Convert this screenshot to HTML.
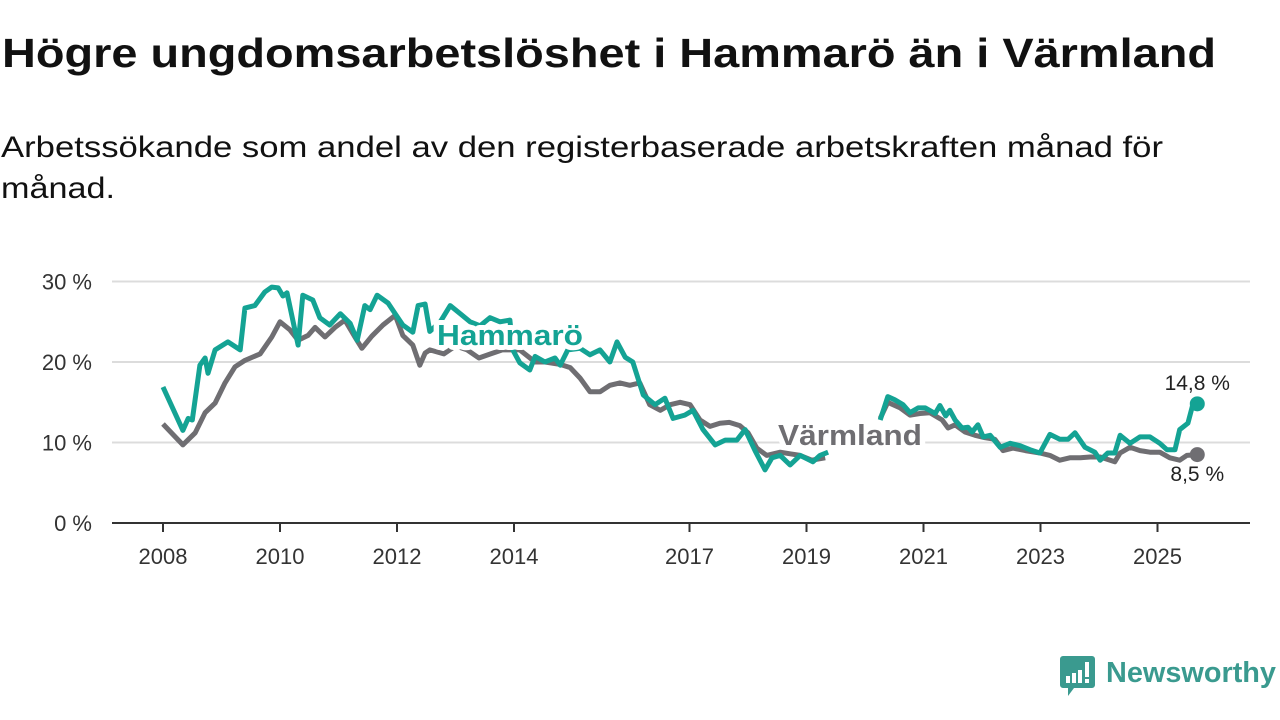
<!DOCTYPE html>
<html><head><meta charset="utf-8"><style>
html,body{margin:0;padding:0;background:#fff;width:1280px;height:720px;overflow:hidden}
svg text{font-family:"Liberation Sans",sans-serif}
</style></head><body>
<svg id="chart" width="1280" height="720" viewBox="0 0 1280 720">
<text x="2" y="67" font-size="41" font-weight="bold" fill="#111" textLength="1214" lengthAdjust="spacingAndGlyphs">Högre ungdomsarbetslöshet i Hammarö än i Värmland</text>
<text x="1" y="157" font-size="30" fill="#111" textLength="1162" lengthAdjust="spacingAndGlyphs">Arbetssökande som andel av den registerbaserade arbetskraften månad för</text>
<text x="1" y="198" font-size="30" fill="#111" textLength="114" lengthAdjust="spacingAndGlyphs">månad.</text>
<g id="grid"></g><g id="series"></g><g id="labels"></g>
<g transform="translate(1060,656)">
<path d="M0,0 h32 a3,3 0 0 1 3,3 v26 a3,3 0 0 1 -3,3 h-18 l-6,8 v-8 h-5 a3,3 0 0 1 -3,-3 v-26 a3,3 0 0 1 3,-3z" fill="#3a9a8f"/>
<rect x="6" y="20" width="4" height="7" fill="#fff"/><rect x="12" y="17" width="4" height="10" fill="#fff"/><rect x="18" y="14" width="4" height="13" fill="#fff"/><rect x="25" y="6" width="4" height="15" fill="#fff"/><rect x="25" y="23" width="4" height="4" fill="#fff"/>
<text x="46" y="26" font-size="29" font-weight="bold" fill="#3a9a8f" textLength="170" lengthAdjust="spacingAndGlyphs">Newsworthy</text>
</g>
</svg>
<script>
const yTicks=[0,10,20,30];
const yTickLabels=["0 %","10 %","20 %","30 %"];
const xTicks=[2008,2010,2012,2014,2017,2019,2021,2023,2025];
const xTickLabels=["2008","2010","2012","2014","2017","2019","2021","2023","2025"];
const hamDates=[2008.00,2008.34,2008.43,2008.50,2008.63,2008.72,2008.77,2008.89,2009.11,2009.32,2009.40,2009.57,2009.74,2009.86,2009.97,2010.05,2010.12,2010.31,2010.39,2010.56,2010.68,2010.85,2011.03,2011.20,2011.32,2011.45,2011.54,2011.66,2011.85,2011.97,2012.10,2012.27,2012.36,2012.48,2012.56,2012.74,2012.91,2013.08,2013.25,2013.42,2013.59,2013.76,2013.93,2013.98,2014.10,2014.27,2014.36,2014.53,2014.70,2014.79,2014.92,2015.13,2015.30,2015.47,2015.64,2015.76,2015.90,2016.03,2016.21,2016.41,2016.58,2016.72,2016.92,2017.06,2017.23,2017.44,2017.61,2017.81,2017.95,2018.12,2018.29,2018.41,2018.55,2018.72,2018.89,2019.11,2019.23,2019.37,2019.8,2020.26,2020.39,2020.51,2020.65,2020.77,2020.91,2021.03,2021.20,2021.28,2021.38,2021.45,2021.54,2021.66,2021.76,2021.83,2021.93,2022.02,2022.14,2022.31,2022.48,2022.65,2022.82,2022.99,2023.16,2023.33,2023.47,2023.59,2023.76,2023.93,2024.02,2024.15,2024.27,2024.36,2024.53,2024.70,2024.87,2025.04,2025.16,2025.30,2025.38,2025.52,2025.61,2025.68];
const hamValues=[16.9,11.5,13,12.8,19.6,20.5,18.6,21.5,22.5,21.5,26.7,27,28.7,29.3,29.2,28.2,28.6,22.1,28.3,27.7,25.5,24.6,26,24.8,22.7,27,26.5,28.3,27.3,26,24.6,23.7,27,27.2,23.8,25,27,26,25,24.5,25.5,25,25.2,21.5,19.9,19,20.7,20,20.5,19.6,21.5,21.7,20.9,21.5,20,22.5,20.6,20,15.9,14.7,15.5,13,13.4,14,11.6,9.7,10.3,10.3,11.6,9,6.6,8.1,8.4,7.2,8.4,7.6,8.4,8.8,null,12.8,15.7,15.3,14.7,13.7,14.3,14.3,13.6,14.6,13.3,14,12.8,11.8,11.9,11.3,12.2,10.7,10.9,9.4,9.9,9.6,9.1,8.7,11,10.4,10.4,11.2,9.4,8.8,7.8,8.7,8.7,10.9,9.9,10.7,10.7,9.9,9.1,9.1,11.6,12.4,14.9,14.8];
const varDates=[2008.00,2008.34,2008.55,2008.72,2008.89,2009.06,2009.23,2009.40,2009.66,2009.86,2010.00,2010.17,2010.31,2010.48,2010.60,2010.77,2010.94,2011.11,2011.28,2011.40,2011.57,2011.76,2011.97,2012.10,2012.27,2012.39,2012.48,2012.56,2012.8,2013.0,2013.2,2013.4,2013.6,2013.8,2014.10,2014.36,2014.53,2014.79,2014.96,2015.13,2015.30,2015.47,2015.64,2015.81,2015.98,2016.15,2016.32,2016.50,2016.67,2016.84,2017.01,2017.18,2017.35,2017.52,2017.68,2017.86,2018.00,2018.15,2018.32,2018.55,2018.72,2018.89,2019.09,2019.32,2019.8,2020.26,2020.39,2020.60,2020.77,2020.94,2021.11,2021.32,2021.42,2021.54,2021.71,2021.88,2022.05,2022.22,2022.36,2022.53,2022.74,2022.99,2023.16,2023.33,2023.50,2023.68,2023.85,2024.02,2024.27,2024.36,2024.53,2024.70,2024.87,2025.04,2025.21,2025.38,2025.50,2025.68];
const varValues=[12.3,9.7,11.2,13.7,14.9,17.4,19.4,20.2,21,23.1,25,24,22.7,23.3,24.3,23.1,24.3,25.2,23.1,21.7,23.2,24.6,25.8,23.3,22.1,19.6,21.1,21.5,21,22,21.5,20.5,21,21.5,21.5,20,20,19.7,19.3,18,16.3,16.3,17.1,17.4,17.1,17.4,14.7,14,14.7,15,14.7,12.8,12,12.4,12.5,12.1,11.2,9.3,8.4,8.8,8.6,8.4,7.8,8.1,null,13,15,14.3,13.4,13.6,13.7,12.8,11.8,12.2,11.3,10.9,10.6,10.4,9,9.3,9,8.7,8.4,7.8,8.1,8.1,8.2,8.2,7.6,8.7,9.4,9,8.8,8.8,8.1,7.8,8.4,8.5];

const NS="http://www.w3.org/2000/svg";
const X0=163,PXY=58.5,Y0=523,PXV=8.05;
function xs(d){return X0+(d-2008)*PXY;}
function ys(v){return Y0-v*PXV;}
function mk(tag,attrs,parent){const e=document.createElementNS(NS,tag);for(const k in attrs)e.setAttribute(k,attrs[k]);parent.appendChild(e);return e;}
const grid=document.getElementById('grid');
yTicks.forEach((t,i)=>{
  if(t>0){const l=mk('line',{x1:112,x2:1250,y1:ys(t),y2:ys(t),stroke:'#dcdcdc','stroke-width':2},grid);
  
  }
  const tx=mk('text',{x:92,y:ys(t)+8,'font-size':22,fill:'#333','text-anchor':'end'},grid);
  tx.textContent=yTickLabels[i];
  
  
});
const ax=mk('line',{x1:112,x2:1250,y1:Y0,y2:Y0,stroke:'#333','stroke-width':2},grid);


xTicks.forEach((t,i)=>{
  const tk=mk('line',{x1:xs(t),x2:xs(t),y1:Y0,y2:Y0+9,stroke:'#333','stroke-width':2},grid);
  
  
  const tx=mk('text',{x:xs(t),y:564,'font-size':22,fill:'#333','text-anchor':'middle'},grid);
  tx.textContent=xTickLabels[i];
  
  
});
const ser=document.getElementById('series');
function pathFor(dates,vals){let d='',pen=false;dates.forEach((t,i)=>{const v=vals[i];if(v===null){pen=false;return;}d+=(pen?'L':'M')+xs(t).toFixed(1)+','+ys(v).toFixed(1);pen=true;});return d;}
const pv=mk('path',{d:pathFor(varDates,varValues),fill:'none',stroke:'#6f6e72','stroke-width':5,'stroke-linejoin':'round'},ser);


const ph=mk('path',{d:pathFor(hamDates,hamValues),fill:'none',stroke:'#14a394','stroke-width':5,'stroke-linejoin':'round'},ser);


const lv=varValues.length-1,lh=hamValues.length-1;
const dv=mk('circle',{cx:xs(varDates[lv]),cy:ys(varValues[lv]),r:7.5,fill:'#6f6e72'},ser);


const dh=mk('circle',{cx:xs(hamDates[lh]),cy:ys(hamValues[lh]),r:7.5,fill:'#14a394'},ser);


const lab=document.getElementById('labels');
function label(txt,x,y,size,color,weight,name,halo,len){
  const a={x:x,y:y,'font-size':size,fill:color,'font-weight':weight,'text-anchor':'middle',stroke:'#fff','stroke-width':halo,'paint-order':'stroke','stroke-linejoin':'round'};
  if(len){a.textLength=len;a.lengthAdjust='spacingAndGlyphs';}
  const t=mk('text',a,lab);
  t.textContent=txt;
  
  
}
label('Hammarö',510,345,29,'#14a394','bold','hammaro-series-label',10,146);
label('Värmland',850,445,29,'#6f6e72','bold','varmland-series-label',10,144);
label(String(hamValues[lh]).replace('.',',')+' %',xs(hamDates[lh]),390,21,'#222','normal','hammaro-end-value',4);
label(String(varValues[lv]).replace('.',',')+' %',xs(varDates[lv]),481,21,'#222','normal','varmland-end-value',4);
</script>
</body></html>
